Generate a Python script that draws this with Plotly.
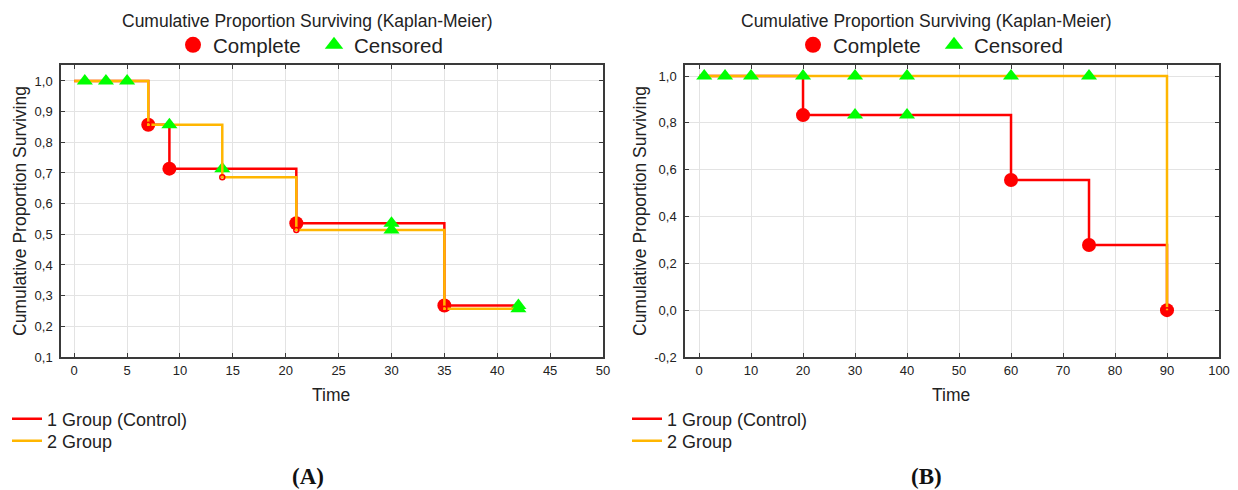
import plotly.graph_objects as go

# ---------------- Data: panel A ----------------
A_g1_time = [0, 7, 9, 21, 35, 42]
A_g1_surv = [1.0, 0.857, 0.714, 0.536, 0.268, 0.268]
A_g2_time = [0, 7, 14, 21, 35, 42]
A_g2_surv = [1.0, 0.857, 0.686, 0.514, 0.257, 0.257]

A_g1_complete_t = [7, 9, 21, 35]
A_g1_complete_s = [0.857, 0.714, 0.536, 0.268]
A_g1_censored_t = [14, 30, 42]
A_g1_censored_s = [0.714, 0.536, 0.268]
A_g2_complete_t = [7, 14, 21, 35]
A_g2_complete_s = [0.857, 0.686, 0.514, 0.257]
A_g2_censored_t = [1, 3, 5, 9, 30, 42]
A_g2_censored_s = [1.0, 1.0, 1.0, 0.857, 0.514, 0.257]

A_xticks = [0, 5, 10, 15, 20, 25, 30, 35, 40, 45, 50]
A_yticks = [0.1, 0.2, 0.3, 0.4, 0.5, 0.6, 0.7, 0.8, 0.9, 1.0]

# ---------------- Data: panel B ----------------
B_g1_time = [0, 20, 60, 75, 90]
B_g1_surv = [1.0, 0.833, 0.556, 0.278, 0.0]
B_g2_time = [0, 90]
B_g2_surv = [1.0, 0.0]

B_g1_complete_t = [20, 60, 75, 90]
B_g1_complete_s = [0.833, 0.556, 0.278, 0.0]
B_g1_censored_t = [30, 40]
B_g1_censored_s = [0.833, 0.833]
B_g2_complete_t = [90]
B_g2_complete_s = [0.0]
B_g2_censored_t = [1, 5, 10, 20, 30, 40, 60, 75]
B_g2_censored_s = [1.0, 1.0, 1.0, 1.0, 1.0, 1.0, 1.0, 1.0]

B_xticks = [0, 10, 20, 30, 40, 50, 60, 70, 80, 90, 100]
B_yticks = [-0.2, 0.0, 0.2, 0.4, 0.6, 0.8, 1.0]

group_names = ["1 Group (Control)", "2 Group"]
marker_names = ["Complete", "Censored"]
chart_title = "Cumulative Proportion Surviving (Kaplan-Meier)"
y_title = "Cumulative Proportion Surviving"
x_title = "Time"
panel_labels = ["(A)", "(B)"]

RED = "#FF0000"
ORANGE = "#FFB600"
GREEN = "#00FF00"
FONT = "Liberation Sans, Arial, sans-serif"
TXT = "#222222"

W, H = 1238, 490


def fmt(v):
    return ("%.1f" % v).replace(".", ",")


fig = go.Figure()


def add_panel(xa, ya, legs,
              g1t, g1s, g2t, g2s,
              c1t, c1s, k1t, k1s, c2t, c2s, k2t, k2s):
    fig.add_trace(go.Scatter(x=g1t, y=g1s, mode="lines", line=dict(color=RED, width=2.5, shape="hv"),
                             name=group_names[0], xaxis=xa, yaxis=ya, legend=legs[2], hoverinfo="skip"))
    fig.add_trace(go.Scatter(x=c1t, y=c1s, mode="markers", marker=dict(symbol="circle", size=14, color=RED),
                             showlegend=False, xaxis=xa, yaxis=ya, hoverinfo="skip"))
    fig.add_trace(go.Scatter(x=k1t, y=k1s, mode="markers", marker=dict(symbol="triangle-up", size=14, color=GREEN),
                             showlegend=False, xaxis=xa, yaxis=ya, hoverinfo="skip"))
    fig.add_trace(go.Scatter(x=g2t, y=g2s, mode="lines", line=dict(color=ORANGE, width=2.5, shape="hv"),
                             name=group_names[1], xaxis=xa, yaxis=ya, legend=legs[3], hoverinfo="skip"))
    fig.add_trace(go.Scatter(x=c2t, y=c2s, mode="markers",
                             marker=dict(symbol="circle-open", size=5, color=RED, line=dict(width=1.5)),
                             showlegend=False, xaxis=xa, yaxis=ya, hoverinfo="skip"))
    fig.add_trace(go.Scatter(x=k2t, y=k2s, mode="markers", marker=dict(symbol="triangle-up", size=14, color=GREEN),
                             showlegend=False, xaxis=xa, yaxis=ya, hoverinfo="skip"))
    fig.add_trace(go.Scatter(x=[None], y=[None], mode="markers", marker=dict(symbol="circle", size=16, color=RED),
                             name=marker_names[0], xaxis=xa, yaxis=ya, legend=legs[0]))
    fig.add_trace(go.Scatter(x=[None], y=[None], mode="markers", marker=dict(symbol="triangle-up", size=16, color=GREEN),
                             name=marker_names[1], xaxis=xa, yaxis=ya, legend=legs[1]))


add_panel("x", "y", ["legend", "legend2", "legend3", "legend4"],
          A_g1_time, A_g1_surv, A_g2_time, A_g2_surv,
          A_g1_complete_t, A_g1_complete_s, A_g1_censored_t, A_g1_censored_s,
          A_g2_complete_t, A_g2_complete_s, A_g2_censored_t, A_g2_censored_s)
add_panel("x2", "y2", ["legend5", "legend6", "legend7", "legend8"],
          B_g1_time, B_g1_surv, B_g2_time, B_g2_surv,
          B_g1_complete_t, B_g1_complete_s, B_g1_censored_t, B_g1_censored_s,
          B_g2_complete_t, B_g2_complete_s, B_g2_censored_t, B_g2_censored_s)

axis_common = dict(showline=True, linecolor="#3a3a3a", linewidth=1.5, mirror="ticks",
                   ticks="inside", ticklen=4, tickcolor="#3a3a3a", tickwidth=1,
                   showgrid=True, gridcolor="#E3E3E3", gridwidth=1, zeroline=False,
                   tickfont=dict(family=FONT, size=13, color=TXT), automargin=False)

y_top = 1 - 65 / H
y_bot = 1 - 357 / H


def leg(xpx, ypx, size):
    return dict(orientation="v", x=xpx / W, xanchor="left", y=1 - ypx / H, yanchor="middle",
                font=dict(size=size, family=FONT, color=TXT), itemsizing="trace",
                bgcolor="rgba(0,0,0,0)", borderwidth=0)


PB = 620  # horizontal offset of panel B

fig.update_layout(
    width=W, height=H,
    margin=dict(l=0, r=0, t=0, b=0),
    paper_bgcolor="white", plot_bgcolor="white",
    font=dict(family=FONT, color=TXT),
    xaxis=dict(domain=[61 / W, 603 / W], range=[-1.25, 50], tickvals=A_xticks,
               ticktext=[str(v) for v in A_xticks], anchor="y", ticklabelstandoff=1, **axis_common),
    yaxis=dict(domain=[y_bot, y_top], range=[0.1, 1.052], tickvals=A_yticks,
               ticktext=[fmt(v) for v in A_yticks], anchor="x", ticklabelstandoff=4, **axis_common),
    xaxis2=dict(domain=[685 / W, 1219 / W], range=[-2.7, 100], tickvals=B_xticks,
                ticktext=[str(v) for v in B_xticks], anchor="y2", ticklabelstandoff=1, **axis_common),
    yaxis2=dict(domain=[y_bot, y_top], range=[-0.2, 1.047], tickvals=B_yticks,
                ticktext=[fmt(v) for v in B_yticks], anchor="x2", ticklabelstandoff=4, **axis_common),
    legend=leg(173, 45, 20.5),
    legend2=leg(314, 45, 20.5),
    legend3=leg(7, 419, 18),
    legend4=leg(7, 441, 18),
    legend5=leg(173 + PB, 45, 20.5),
    legend6=leg(314 + PB, 45, 20.5),
    legend7=leg(7 + PB, 419, 18),
    legend8=leg(7 + PB, 441, 18),
    showlegend=True,
)

annotations = []
for cx, plot_cx, lab_cx, lab in [(307, 331, 308, panel_labels[0]), (927, 951, 927, panel_labels[1])]:
    annotations.append(dict(text=chart_title, x=cx / W, y=1 - 21 / H, xref="paper", yref="paper",
                            xanchor="center", yanchor="middle", showarrow=False,
                            font=dict(size=17.5, family=FONT, color=TXT)))
    annotations.append(dict(text=x_title, x=plot_cx / W, y=1 - 395 / H, xref="paper", yref="paper",
                            xanchor="center", yanchor="middle", showarrow=False,
                            font=dict(size=17.5, family=FONT, color=TXT)))
    annotations.append(dict(text="<b>" + lab + "</b>", x=lab_cx / W, y=1 - 476 / H, xref="paper", yref="paper",
                            xanchor="center", yanchor="middle", showarrow=False,
                            font=dict(size=23, family="Liberation Serif, Times New Roman, serif", color="#111111")))
for lx in [20, 20 + PB]:
    annotations.append(dict(text=y_title, x=lx / W, y=1 - 211 / H, xref="paper", yref="paper",
                            xanchor="center", yanchor="middle", showarrow=False, textangle=-90,
                            font=dict(size=17.5, family=FONT, color=TXT)))
fig.update_layout(annotations=annotations)

fig.write_html("out.html", config={"displayModeBar": False},
               post_script="document.body.style.margin='0px';document.body.style.overflow='hidden';")
